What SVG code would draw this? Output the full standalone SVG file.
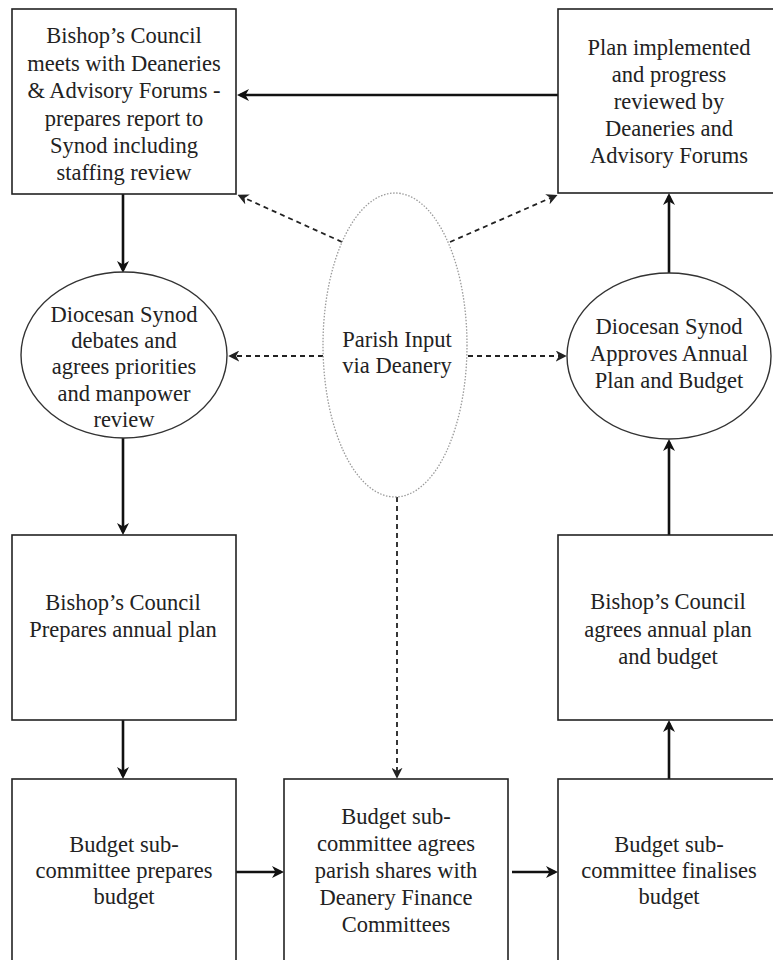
<svg xmlns="http://www.w3.org/2000/svg" width="773" height="960" viewBox="0 0 773 960">
  <style>
    .box { fill: #ffffff; stroke: #222222; stroke-width: 1.6; }
    .oval { fill: #ffffff; stroke: #333333; stroke-width: 1.4; }
    .input { fill: #ffffff; stroke: #9a9a9a; stroke-width: 1.3; stroke-dasharray: 1.5 1.6; }
    .flow { fill: none; stroke: #111111; stroke-width: 2.6; marker-end: url(#head); }
    .feed { fill: none; stroke: #222222; stroke-width: 1.8; stroke-dasharray: 5 4; marker-end: url(#headSmall); }
    .label { font-size: 22.5px; fill: #222222; text-anchor: middle; }
  </style>
  <defs>
    <marker id="head" viewBox="0 0 12 12" refX="9" refY="6" markerWidth="12" markerHeight="12" markerUnits="userSpaceOnUse" orient="auto">
      <path d="M0,0 L12,6 L0,12 L3.5,6 z" fill="#111111"/>
    </marker>
    <marker id="headSmall" viewBox="0 0 12 12" refX="9" refY="6" markerWidth="11" markerHeight="11" markerUnits="userSpaceOnUse" orient="auto">
      <path d="M0,0 L12,6 L0,12 L3.5,6 z" fill="#222222"/>
    </marker>
  </defs>

  <rect width="773" height="960" fill="#ffffff"/>

  <!-- connectors -->
  <g id="connectors">
    <line class="flow" x1="558" y1="95" x2="240" y2="95"/>
    <line class="flow" x1="123" y1="194" x2="123" y2="270"/>
    <line class="flow" x1="123" y1="438" x2="123" y2="532"/>
    <line class="flow" x1="123" y1="720" x2="123" y2="776"/>
    <line class="flow" x1="236" y1="872" x2="281" y2="872"/>
    <line class="flow" x1="512" y1="872" x2="555" y2="872"/>
    <line class="flow" x1="669" y1="779" x2="669" y2="723"/>
    <line class="flow" x1="669" y1="535" x2="669" y2="442"/>
    <line class="flow" x1="669" y1="273" x2="669" y2="196"/>

    <line class="feed" x1="342" y1="242" x2="240" y2="196"/>
    <line class="feed" x1="450" y1="242" x2="555" y2="196"/>
    <line class="feed" x1="323" y1="356" x2="231" y2="356"/>
    <line class="feed" x1="468" y1="356" x2="564" y2="356"/>
    <line class="feed" x1="397" y1="497" x2="397" y2="776"/>
  </g>

  <g class="label" font-family="'Liberation Serif', 'DejaVu Serif', serif">
  <g id="council-report">
    <rect class="box" x="12" y="9" width="224" height="185"/>
    <text x="124" y="43">Bishop’s Council</text>
    <text x="124" y="71">meets with Deaneries</text>
    <text x="124" y="98">&amp; Advisory Forums -</text>
    <text x="124" y="126">prepares report to</text>
    <text x="124" y="153">Synod including</text>
    <text x="124" y="180">staffing review</text>
  </g>

  <g id="plan-implemented">
    <rect class="box" x="558" y="9" width="224" height="184"/>
    <text x="669" y="55">Plan implemented</text>
    <text x="669" y="82">and progress</text>
    <text x="669" y="109">reviewed by</text>
    <text x="669" y="136">Deaneries and</text>
    <text x="669" y="163">Advisory Forums</text>
  </g>

  <g id="synod-debates">
    <ellipse class="oval" cx="124" cy="355" rx="103" ry="83"/>
    <text x="124" y="322">Diocesan Synod</text>
    <text x="124" y="348">debates and</text>
    <text x="124" y="374">agrees priorities</text>
    <text x="124" y="401">and manpower</text>
    <text x="124" y="427">review</text>
  </g>

  <g id="parish-input">
    <ellipse class="input" cx="395" cy="345" rx="72" ry="152"/>
    <text x="397" y="347">Parish Input</text>
    <text x="397" y="373">via Deanery</text>
  </g>

  <g id="synod-approves">
    <ellipse class="oval" cx="669" cy="356" rx="102" ry="83"/>
    <text x="669" y="334">Diocesan Synod</text>
    <text x="669" y="361">Approves Annual</text>
    <text x="669" y="388">Plan and Budget</text>
  </g>

  <g id="council-plan">
    <rect class="box" x="12" y="535" width="224" height="185"/>
    <text x="123" y="610">Bishop’s Council</text>
    <text x="123" y="637">Prepares annual plan</text>
  </g>

  <g id="council-agrees">
    <rect class="box" x="558" y="535" width="224" height="185"/>
    <text x="668" y="609">Bishop’s Council</text>
    <text x="668" y="637">agrees annual plan</text>
    <text x="668" y="664">and budget</text>
  </g>

  <g id="budget-prepares">
    <rect class="box" x="12" y="779" width="224" height="200"/>
    <text x="124" y="852">Budget sub-</text>
    <text x="124" y="878">committee prepares</text>
    <text x="124" y="904">budget</text>
  </g>

  <g id="parish-shares">
    <rect class="box" x="284" y="779" width="224" height="200"/>
    <text x="396" y="824">Budget sub-</text>
    <text x="396" y="851">committee agrees</text>
    <text x="396" y="878">parish shares with</text>
    <text x="396" y="905">Deanery Finance</text>
    <text x="396" y="932">Committees</text>
  </g>

  <g id="budget-finalises">
    <rect class="box" x="558" y="779" width="224" height="200"/>
    <text x="669" y="852">Budget sub-</text>
    <text x="669" y="878">committee finalises</text>
    <text x="669" y="904">budget</text>
  </g>
  </g>
</svg>
